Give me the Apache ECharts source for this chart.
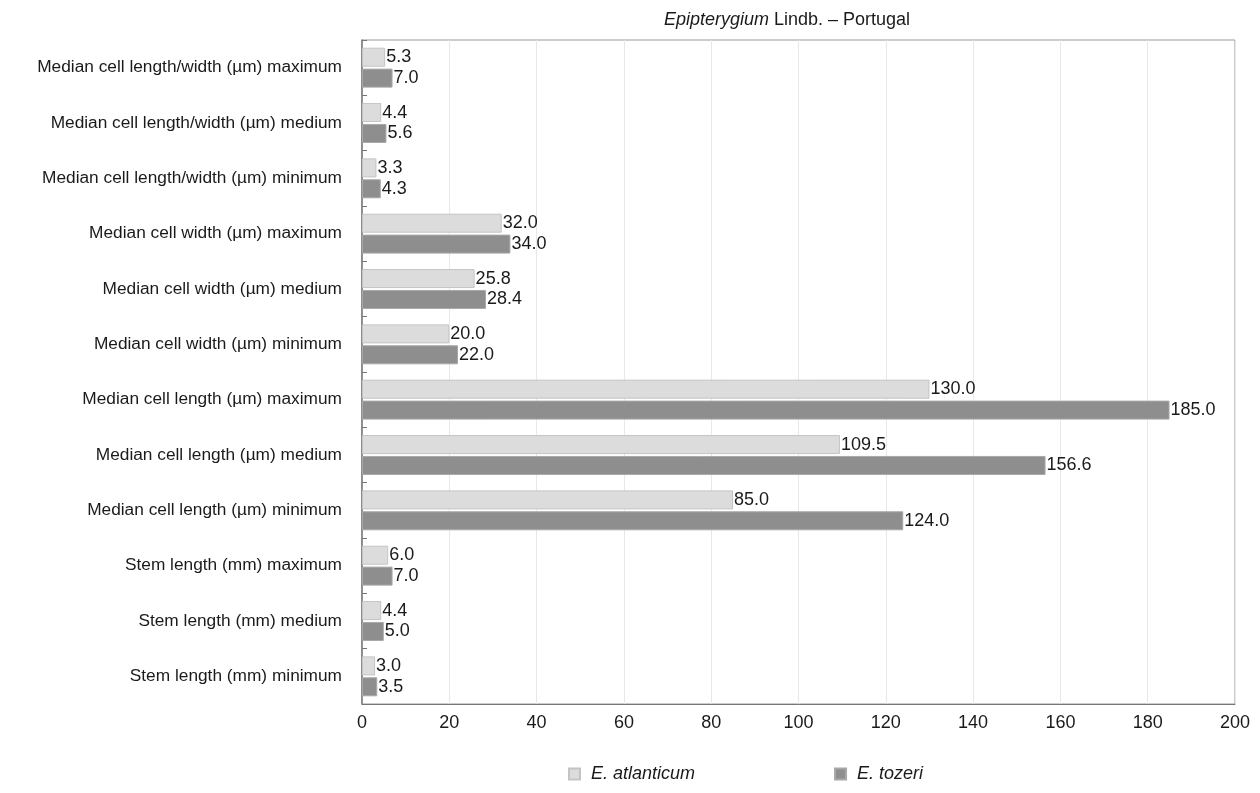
<!DOCTYPE html>
<html>
<head>
<meta charset="utf-8">
<script src="https://cdn.jsdelivr.net/npm/echarts@6/dist/echarts.min.js"></script>
<style>html,body{margin:0;padding:0;background:#fff;}#chart{width:1260px;height:793px;}</style>
</head>
<body>
<div id="chart"></div>
<script>
// Categories listed bottom to top (ECharts category y-axis starts at bottom)
const categories = [
  "Stem length (mm) minimum",
  "Stem length (mm) medium",
  "Stem length (mm) maximum",
  "Median cell length (µm) minimum",
  "Median cell length (µm) medium",
  "Median cell length (µm) maximum",
  "Median cell width (µm) minimum",
  "Median cell width (µm) medium",
  "Median cell width (µm) maximum",
  "Median cell length/width (µm) minimum",
  "Median cell length/width (µm) medium",
  "Median cell length/width (µm) maximum"
];
const atlanticum = [3.0, 4.4, 6.0, 85.0, 109.5, 130.0, 20.0, 25.8, 32.0, 3.3, 4.4, 5.3];
const tozeri = [3.5, 5.0, 7.0, 124.0, 156.6, 185.0, 22.0, 28.4, 34.0, 4.3, 5.6, 7.0];
const seriesNames = ["E. atlanticum", "E. tozeri"];
const xTicks = { min: 0, max: 200, interval: 20 };

const font = "Liberation Sans, Arial, Helvetica, sans-serif";
const chart = echarts.init(document.getElementById('chart'), null, { renderer: 'canvas' });
const labelCfg = {
  show: true, position: 'right', distance: 1,
  color: '#1a1a1a', fontSize: 18, fontFamily: font,
  formatter: p => p.value.toFixed(1)
};
chart.setOption({
  animation: false,
  backgroundColor: '#fff',
  title: {
    text: '{i|Epipterygium} {n|Lindb. – Portugal}',
    left: 782, top: 6, textAlign: 'center',
    textStyle: {
      fontWeight: 'normal',
      rich: {
        i: { fontStyle: 'italic', fontWeight: 'normal', fontSize: 18, color: '#1a1a1a', fontFamily: font },
        n: { fontWeight: 'normal', fontSize: 18, color: '#1a1a1a', fontFamily: font }
      }
    }
  },
  legend: {
    data: seriesNames,
    left: 563, top: 760,
    itemWidth: 11, itemHeight: 11, itemGap: 139,
    icon: 'rect',
    textStyle: { fontStyle: 'italic', fontSize: 18, color: '#1a1a1a', fontFamily: font, padding: [0, 0, 0, 6] }
  },
  grid: {
    left: 362, right: 25, top: 40, bottom: 89,
    show: true, borderColor: '#999', borderWidth: 1,
    containLabel: false
  },
  xAxis: {
    type: 'value', min: xTicks.min, max: xTicks.max, interval: xTicks.interval,
    axisLine: { show: true, lineStyle: { color: '#777' } },
    axisTick: { show: false },
    axisLabel: { fontSize: 18, color: '#1a1a1a', fontFamily: font, margin: 10 },
    splitLine: { show: true, lineStyle: { color: '#e8e8e8' } }
  },
  yAxis: {
    type: 'category', data: categories,
    axisLine: { show: true, lineStyle: { color: '#777', width: 1.5 } },
    axisTick: { show: true, inside: true, length: 5, lineStyle: { color: '#777' } },
    axisLabel: { fontSize: 17.3, color: '#1a1a1a', fontFamily: font, margin: 20 },
    splitLine: { show: false }
  },
  series: [
    {
      name: seriesNames[0], type: 'bar', data: atlanticum,
      barWidth: 19, barGap: '10%',
      itemStyle: { color: '#dcdcdc', borderColor: '#c4c4c4', borderWidth: 1 },
      label: labelCfg
    },
    {
      name: seriesNames[1], type: 'bar', data: tozeri,
      barWidth: 19, barGap: '10%',
      itemStyle: { color: '#8e8e8e', borderColor: '#a8a8a8', borderWidth: 1 },
      label: labelCfg
    }
  ]
});
</script>
</body>
</html>
